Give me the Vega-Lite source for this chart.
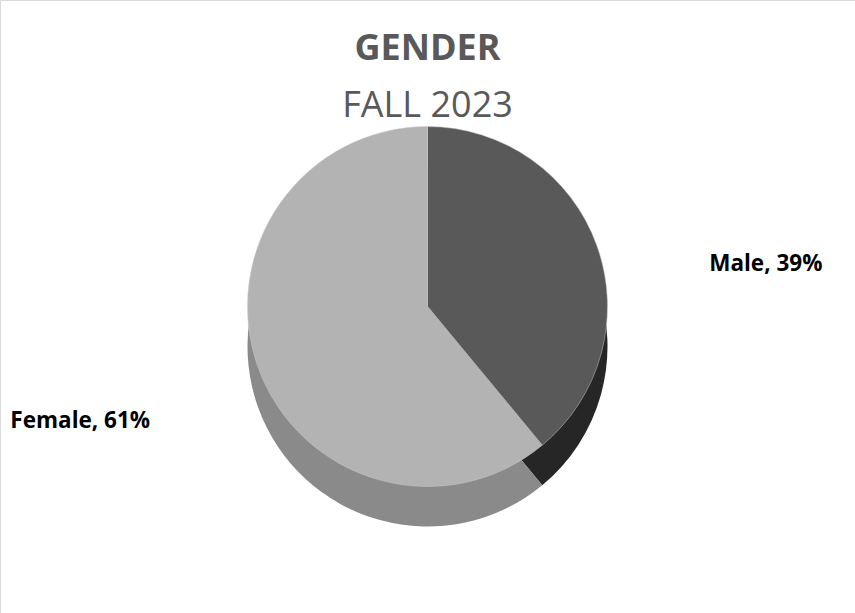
{
  "$schema": "https://vega.github.io/schema/vega-lite/v6.json",
  "width": 855,
  "height": 613,
  "autosize": {"type": "fit", "contains": "padding"},
  "background": "white",
  "padding": 0,
  "view": {"stroke": "#d9d9d9", "strokeWidth": 1},
  "config": {
    "view": {"stroke": "#d9d9d9", "strokeWidth": 1},
    "font": "Open Sans"
  },
  "title": {
    "text": "GENDER",
    "subtitle": "FALL 2023",
    "fontSize": 36,
    "fontWeight": "bold",
    "subtitleFontSize": 36,
    "subtitleFontWeight": "normal",
    "color": "#595959",
    "subtitleColor": "#595959",
    "font": "Open Sans",
    "subtitleFont": "Open Sans",
    "anchor": "middle",
    "subtitlePadding": 21,
    "offset": -125
  },
  "data": {
    "values": [
      {"gender": "Male", "value": 39, "label": "Male, 39%"},
      {"gender": "Female", "value": 61, "label": "Female, 61%"}
    ]
  },
  "transform": [
    {"stack": "value", "groupby": [], "sort": [{"field": "value", "order": "ascending"}], "as": ["v0", "v1"]}
  ],
  "encoding": {
    "theta": {"field": "v0", "type": "quantitative", "scale": {"domain": [0, 100]}}
  },
  "layer": [
    {
      "mark": {"type": "arc", "outerRadius": 180, "yOffset": 40},
      "encoding": {
        "theta2": {"field": "v1"},
        "color": {
          "field": "gender",
          "type": "nominal",
          "scale": {"domain": ["Male", "Female"], "range": ["#262626", "#8a8a8a"]},
          "legend": null
        }
      }
    },
    {
      "mark": {"type": "arc", "outerRadius": 180, "yOffset": 0, "stroke": "#c8c8c8", "strokeWidth": 0.5},
      "encoding": {
        "theta2": {"field": "v1"},
        "color": {
          "field": "gender",
          "type": "nominal",
          "scale": {"domain": ["Male", "Female"], "range": ["#595959", "#b3b3b3"]},
          "legend": null
        }
      }
    },
    {
      "transform": [{"filter": "datum.gender === 'Male'"}],
      "mark": {"type": "text", "radius": 350, "thetaOffset": 1.2252, "dx": 9, "dy": 76, "fontSize": 22.5, "fontWeight": "bold", "color": "black", "font": "Open Sans"},
      "encoding": {
        "text": {"field": "label", "type": "nominal"}
      }
    },
    {
      "transform": [{"filter": "datum.gender === 'Female'"}],
      "mark": {"type": "text", "radius": 350, "thetaOffset": 1.9164, "dx": -18, "dy": -4, "fontSize": 22.5, "fontWeight": "bold", "color": "black", "font": "Open Sans"},
      "encoding": {
        "text": {"field": "label", "type": "nominal"}
      }
    }
  ],
  "resolve": {"scale": {"color": "independent"}}
}
